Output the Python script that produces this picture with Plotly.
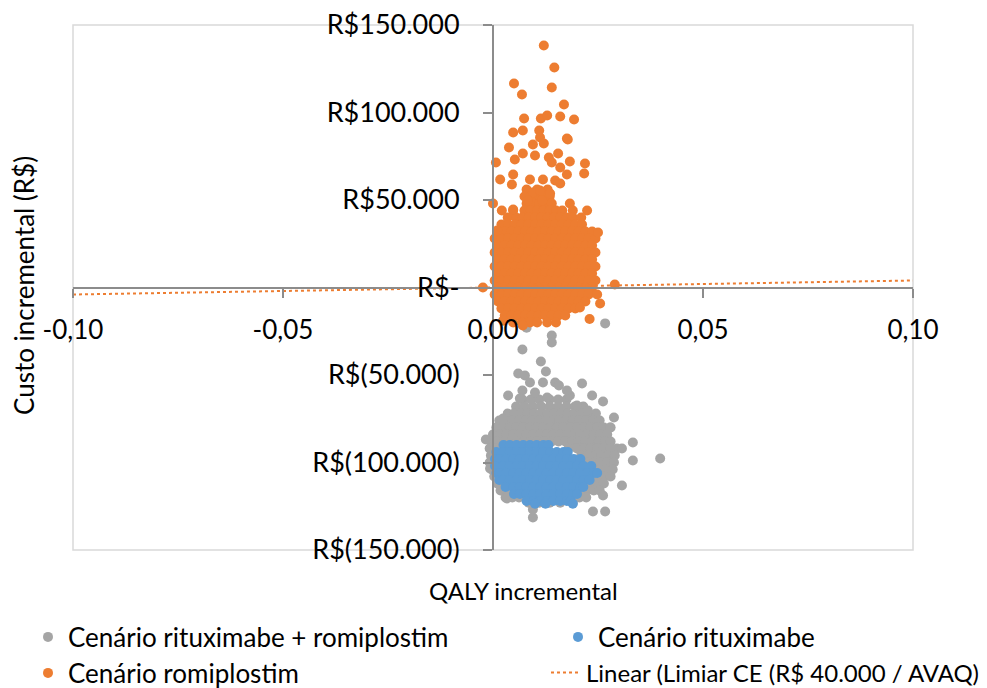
import plotly.graph_objects as go

# ---------------- data ----------------
# QALY incremental is written in thousandths (x 0.001); cost in R$
series_names = ["Cenário rituximabe + romiplostim", "Cenário rituximabe",
                "Cenário romiplostim", "Linear (Limiar CE (R$ 40.000 / AVAQ))"]

x_tickvals = [-0.10, -0.05, 0.0, 0.05, 0.10]
x_ticktext = ["-0,10", "-0,05", "0,00", "0,05", "0,10"]
y_tickvals = [-150000, -100000, -50000, 0, 50000, 100000, 150000]
y_ticktext = ["R$(150.000)", "R$(100.000)", "R$(50.000)", "R$-",
              "R$50.000", "R$100.000", "R$150.000"]

ROW_A = [1.2, 2.8, 4.4, 6.0, 7.6, 9.2, 10.8, 12.4, 14.0, 15.6, 17.2, 18.8, 20.4, 22.0, 23.6]
ROW_B = [0.4, 2.0, 3.6, 5.2, 6.8, 8.4, 10.0, 11.6, 13.2, 14.8, 16.4, 18.0, 19.6, 21.2, 22.8, 24.4]

# Cenário romiplostim (orange)
romi_core = [
    (56000, [8, 10.5, 13]),
    (52000, [7.5, 9, 10.5, 12, 13.5]),
    (48000, [0, 8, 9.5, 11, 12.5, 14, 18.3]),
    (44000, [2.1, 4.8, 7.5, 9, 10.5, 12, 13.5, 15, 16.5, 19, 22.4]),
    (40000, [3.5, 5.5, 7, 8.5, 10, 11.5, 13, 14.5, 16, 17.5, 19, 21]),
    (36000, [2, 3.6, 5.2, 6.8, 8.4, 10, 11.6, 13.2, 14.8, 16.4, 18, 19.6, 21.2]),
    (32000, ROW_A), (28000, ROW_B), (24000, ROW_A), (20000, ROW_B),
    (16000, ROW_A), (12000, ROW_B), (8000, ROW_A), (4000, ROW_B), (0, ROW_A),
    (-4000, [0.4, 2.0, 3.6, 5.2, 6.8, 8.4, 10.0, 11.6, 13.2, 14.8, 16.4, 18.0, 19.6, 21.2, 22.8]),
    (-8000, [1.2, 2.8, 4.4, 6.0, 7.6, 9.2, 10.8, 12.4, 14.0, 15.6, 17.2, 18.8, 20.4, 22.0]),
    (-12000, [2.0, 3.6, 5.2, 6.8, 8.4, 10.0, 11.6, 13.2, 14.8, 16.4, 18.0, 19.6]),
    (-16000, [2.8, 4.4, 6.0, 7.6, 9.2, 10.8, 12.4, 14.0, 15.6, 17.2]),
    (-20000, [4.8, 7.0, 8.8, 10.5, 12.9, 15.0]),
]
romi_pts = [
    (12.1, 138300), (14.6, 125700), (5.0, 116600), (6.9, 110300), (14.0, 114300),
    (16.9, 104600), (7.4, 96600), (11.4, 96600), (12.9, 98300), (16.0, 97700),
    (19.3, 96000), (4.8, 88600), (7.1, 89700), (11.0, 89700), (11.2, 85700),
    (17.6, 85100), (17.8, 84600), (3.8, 80000), (9.5, 81700), (12.1, 82300),
    (7.1, 76600), (10.0, 75400), (5.2, 73100), (0.7, 71400), (13.3, 74300),
    (15.5, 76600), (18.3, 72000), (21.9, 70900), (16.0, 68600), (14.0, 71400),
    (4.8, 64600), (17.6, 64600), (21.7, 65100), (1.7, 61700), (8.8, 61700),
    (11.9, 61700), (14.8, 61100), (4.5, 58900), (16.0, 59400), (9.5, 54300),
    (11.2, 55400), (13.6, 53700), (8.3, 49700), (11.7, 49700), (4.8, 44600),
    (1.0, 32600), (25.0, 31400), (-2.4, 0), (29.0, 1700), (20.7, -11400),
    (23.0, -18000), (25.5, -9100), (24.8, -4000), (7.1, -21700), (2.4, -19000),
]

# Cenário rituximabe + romiplostim (gray)
combo_core = [
    (-64000, [7, 9, 11, 13.5, 15.5, 17.5]),
    (-68000, [5.5, 7.5, 9.5, 11.5, 13.5, 15.5, 17.5, 19.5, 21.5]),
    (-72000, [3.5, 5.0, 6.6, 8.2, 9.8, 11.4, 13.0, 14.6, 16.2, 17.8, 19.4, 21.0, 22.6, 24.5]),
    (-76000, [1.5, 3.0, 4.6, 6.2, 7.8, 9.4, 11.0, 12.6, 14.2, 15.8, 17.4, 19.0, 20.6, 22.2, 23.8, 25.4]),
    (-80000, [0.8, 2.4, 4.0, 5.6, 7.2, 8.8, 10.4, 12.0, 13.6, 15.2, 16.8, 18.4, 20.0, 21.6, 23.2, 24.8, 26.4, 28.0]),
    (-84000, [0.0, 1.6, 3.2, 4.8, 6.4, 8.0, 9.6, 11.2, 12.8, 14.4, 16.0, 17.6, 19.2, 20.8, 22.4, 24.0, 25.6, 27.2]),
    (-88000, [-0.5, 1.0, 2.6, 4.2, 5.8, 7.4, 9.0, 10.6, 12.2, 14.0, 15.6, 17.2, 18.8, 20.4, 22.0, 23.6, 25.2, 26.8, 28.0]),
    (-92000, [-0.8, 0.6, 18.0, 20.0, 21.6, 23.2, 24.8, 26.4, 28.0, 29.5]),
    (-96000, [-0.5, 1.0, 21.0, 22.6, 24.2, 25.8, 27.4, 29.0]),
    (-100000, [-0.8, 0.8, 22.5, 24.0, 25.6, 27.2, 28.8]),
    (-104000, [-0.3, 1.2, 24.0, 25.5, 27.0, 28.5]),
    (-108000, [0.3, 1.8, 23.5, 25.0, 26.5, 28.0]),
    (-112000, [1.0, 2.6, 4.2, 20.0, 21.6, 23.2, 24.8, 26.4]),
    (-116000, [1.8, 3.4, 5.0, 6.6, 16.0, 17.6, 19.2, 20.8, 22.4, 24.0, 25.4]),
    (-120000, [3.0, 4.6, 6.2, 7.8, 9.4, 11.0, 12.6, 14.2, 15.8, 17.4, 19.0, 20.6, 22.2]),
    (-123000, [8.5, 11.0, 13.5, 16.0, 19.0]),
]
combo_pts = [
    (8.0, -23000), (14.0, -27400), (26.7, -20500), (14.0, -31400), (7.0, -35400),
    (11.4, -42300), (12.6, -48000), (6.0, -49100), (7.6, -50300), (8.8, -54300),
    (3.6, -61700), (11.9, -54300), (14.8, -54300), (15.7, -56000), (21.2, -54900),
    (23.6, -61700), (26.2, -65100), (20.0, -67400), (22.6, -70300), (28.8, -74300),
    (2.4, -74900), (10.0, -60000), (7.0, -58900), (6.4, -63400), (12.9, -62900),
    (18.3, -61700), (17.6, -58900), (-1.7, -86900), (33.3, -88600), (30.7, -92000),
    (39.8, -97700), (33.3, -98900), (30.7, -113100), (-0.7, -103400), (3.3, -120600),
    (9.5, -126900), (9.5, -131400), (23.8, -128000), (26.7, -128000), (26.2, -118900),
    (27.9, -80000),
]

# Cenário rituximabe (blue)
ritux_core = [
    (-90000, [2.5, 4.0, 5.6, 7.2, 8.8, 10.4, 12.0, 13.2]),
    (-94000, [0.8, 2.4, 4.0, 5.6, 7.2, 8.8, 10.4, 12.0, 13.6, 15.2, 16.8, 17.8]),
    (-98000, [0.5, 1.6, 3.2, 4.8, 6.4, 8.0, 9.6, 11.2, 12.8, 14.4, 16.0, 17.6, 19.2, 20.8]),
    (-102000, [0.5, 2.4, 4.0, 5.6, 7.2, 8.8, 10.4, 12.0, 13.6, 15.2, 16.8, 18.4, 20.0, 21.6, 23.4]),
    (-106000, [0.8, 1.6, 3.2, 4.8, 6.4, 8.0, 9.6, 11.2, 12.8, 14.4, 16.0, 17.6, 19.2, 20.8, 22.4, 24.0, 24.8]),
    (-110000, [1.5, 2.4, 4.0, 5.6, 7.2, 8.8, 10.4, 12.0, 13.6, 15.2, 16.8, 18.4, 20.0, 21.6, 23.0]),
    (-114000, [3.0, 4.8, 6.4, 8.0, 9.6, 11.2, 12.8, 14.4, 16.0, 17.6, 19.2, 20.8, 21.5]),
    (-118000, [5.0, 6.4, 8.0, 9.6, 11.2, 12.8, 14.4, 16.0, 17.6, 19.2, 20.0]),
    (-122000, [8.0, 9.6, 11.2, 12.8, 14.4, 16.0, 17.6, 18.5]),
    (-123500, [10.0, 12.5, 19.0]),
]

# threshold line (R$ 40.000 / AVAQ)
threshold_qaly = [-0.10, 0.10]
threshold_cost = [-4000, 4000]


def flatten(rows, pts):
    xs, ys = [], []
    for cost, qs in rows:
        for q in qs:
            xs.append(q / 1000.0)
            ys.append(cost)
    for q, cost in pts:
        xs.append(q / 1000.0)
        ys.append(cost)
    return xs, ys


combo_x, combo_y = flatten(combo_core, combo_pts)
ritux_x, ritux_y = flatten(ritux_core, [])
romi_x, romi_y = flatten(romi_core, romi_pts)

GRAY = "#A5A5A5"
BLUE = "#5B9BD5"
ORANGE = "#ED7D31"
AXIS = "#8C8C8C"
FONT = "Lato"

fig = go.Figure()
fig.add_trace(go.Scatter(x=combo_x, y=combo_y, mode="markers", name=series_names[0],
                         marker=dict(color=GRAY, size=10, line=dict(width=0)),
                         legend="legend"))
fig.add_trace(go.Scatter(x=ritux_x, y=ritux_y, mode="markers", name=series_names[1],
                         marker=dict(color=BLUE, size=10, line=dict(width=0)),
                         legend="legend2"))
fig.add_trace(go.Scatter(x=romi_x, y=romi_y, mode="markers", name=series_names[2],
                         marker=dict(color=ORANGE, size=10, line=dict(width=0)),
                         legend="legend3"))
fig.add_trace(go.Scatter(x=threshold_qaly, y=threshold_cost, mode="lines", name=series_names[3],
                         line=dict(color=ORANGE, width=2, dash="dot"),
                         legend="legend4"))

# target plot area in screen pixels; the page body adds an 8px offset,
# so the figure is sized to fit inside the 987x688 window.
OFF = 8
FW, FH = 987 - OFF, 688 - OFF
PW = 840.0
PH = 525.0
L, T = 73, 25


def px2x(px):
    return (px - L) / PW


def py2y(py):
    return (T + PH - py) / PH


def leg(x, y, size):
    return dict(orientation="v", xanchor="left", yanchor="middle",
                x=px2x(x), y=py2y(y),
                font=dict(family=FONT, size=size, color="#000000"),
                bgcolor="rgba(0,0,0,0)", borderwidth=0)


ml, mt = L - OFF, T - OFF
fig.update_layout(
    width=FW, height=FH,
    margin=dict(l=ml, r=FW - ml - int(PW), t=mt, b=FH - mt - int(PH), autoexpand=False),
    paper_bgcolor="white", plot_bgcolor="white",
    font=dict(family=FONT, size=26, color="#000000"),
    showlegend=True,
    legend=leg(28, 637, 26),
    legend2=leg(558, 637, 26),
    legend3=leg(28, 673, 26),
    legend4=leg(546, 673, 24),
    xaxis=dict(range=[-0.10, 0.10], tickvals=x_tickvals, ticktext=x_ticktext,
               anchor="free", position=0.5, showline=True, linecolor=AXIS, linewidth=2,
               ticks="outside", ticklen=9, tickwidth=2, tickcolor=AXIS,
               showgrid=False, zeroline=False, ticklabelstandoff=10,
               ticklabeloverflow="allow",
               tickfont=dict(family=FONT, size=26, color="#000000")),
    yaxis=dict(range=[-150000, 150000], tickvals=y_tickvals, ticktext=y_ticktext,
               anchor="free", position=0.5, showline=True, linecolor=AXIS, linewidth=2,
               ticks="outside", ticklen=9, tickwidth=2, tickcolor=AXIS,
               showgrid=False, zeroline=False, ticklabelstandoff=18,
               ticklabeloverflow="allow",
               tickfont=dict(family=FONT, size=27, color="#000000")),
    shapes=[dict(type="rect", xref="paper", yref="paper", x0=0, x1=1, y0=0, y1=1,
                 line=dict(color="#D9D9D9", width=1.5), layer="below")],
    annotations=[
        dict(text="Custo incremental (R$)", xref="paper", yref="paper",
             x=px2x(24), y=py2y(286), textangle=-90, showarrow=False,
             xanchor="center", yanchor="middle",
             font=dict(family=FONT, size=26, color="#000000")),
        dict(text="QALY incremental", xref="paper", yref="paper",
             x=px2x(523), y=py2y(590), showarrow=False,
             xanchor="center", yanchor="middle",
             font=dict(family=FONT, size=24, color="#000000")),
    ],
)

fig.write_html("out.html")
